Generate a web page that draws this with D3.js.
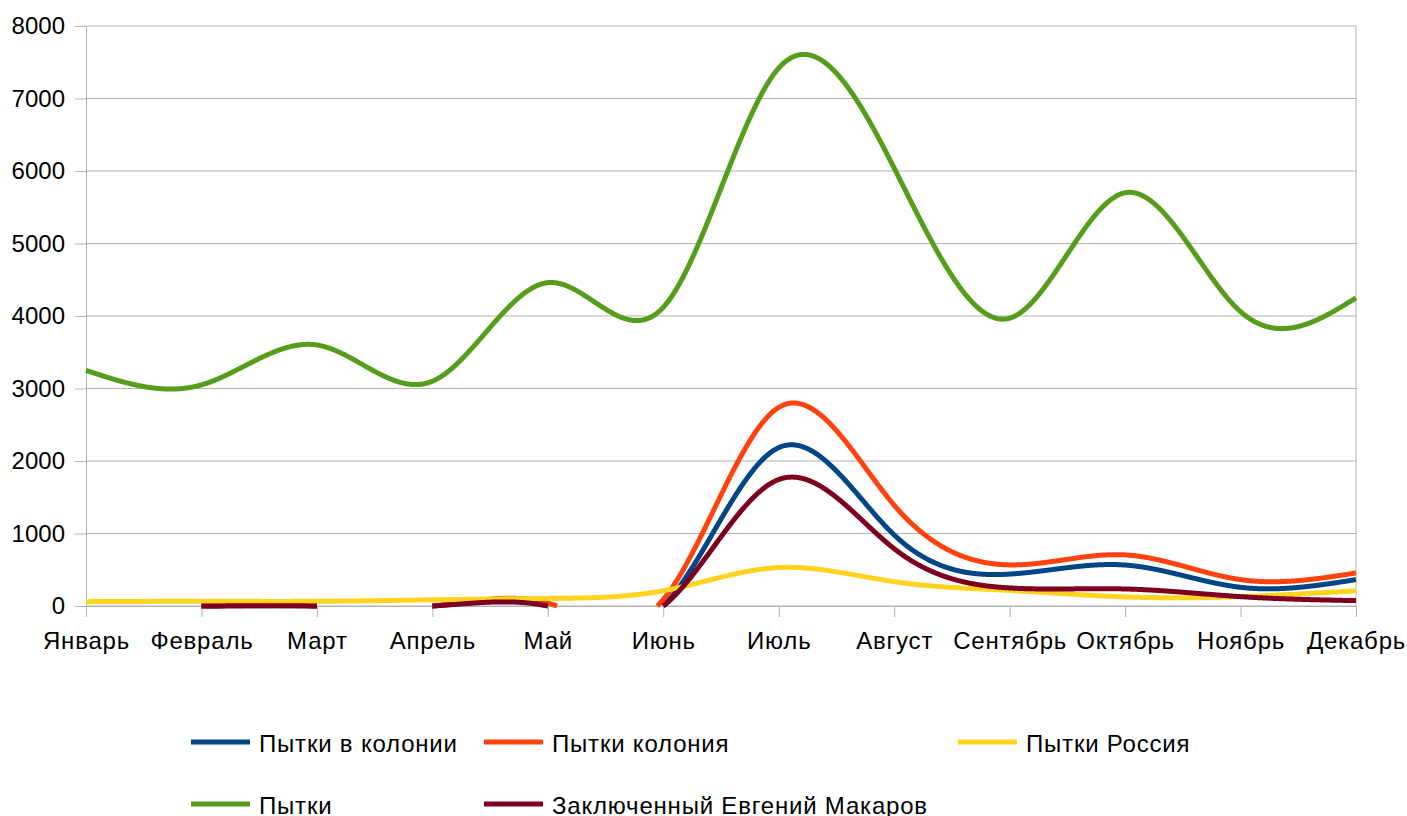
<!DOCTYPE html>
<html>
<head>
<meta charset="utf-8">
<script src="https://cdn.jsdelivr.net/npm/d3@7"></script>
<style>
  html, body { margin: 0; padding: 0; background: #ffffff; }
  svg { display: block; font-family: "Liberation Sans", Arial, sans-serif; }
</style>
</head>
<body>
<svg id="chart" width="1407" height="816"></svg>
<script>
// ---- data ----
const months = ["Январь","Февраль","Март","Апрель","Май","Июнь","Июль","Август","Сентябрь","Октябрь","Ноябрь","Декабрь"];
const yTicks = [0,1000,2000,3000,4000,5000,6000,7000,8000];
const seriesNames = ["Пытки в колонии","Пытки колония","Пытки Россия","Пытки","Заключенный Евгений Макаров"];
const seriesColors = ["#004586","#ff420e","#ffd320","#579d1c","#7e0021"];
const tortureInColony = [0,0,0,0,0,0,2185,980,440,565,258,364];
const tortureColony   = [0,0,0,0,40,90,2740,1390,567,705,364,456];
const tortureRussia   = [60,65,65,85,105,210,530,335,215,125,130,210];
const torture         = [3250,3050,3600,3100,4460,4120,7420,6040,3970,5700,4060,4250];
const makarov         = [0,0,0,0,0,0,1745,790,249,235,129,74];
const seriesValues = [tortureInColony, tortureColony, tortureRussia, torture, makarov];

(function () {
// ---- layout ----
const svg = d3.select("#chart");
const pL = 86, pR = 1356, pT = 26, pB = 606;
const x = d3.scalePoint().domain(months).range([pL, pR]);
const y = d3.scaleLinear().domain([0, 8000]).range([pB, pT]);
const grey = "#b3b3b3";
const fs = 24;
const ls = "0.8px";

svg.append("rect").attr("width", 1407).attr("height", 816).attr("fill", "#fff");

// grid
svg.append("g").selectAll("line").data(yTicks).join("line")
  .attr("x1", pL).attr("x2", pR)
  .attr("y1", d => y(d)).attr("y2", d => y(d))
  .attr("stroke", grey).attr("stroke-width", 1);
// wall border right
svg.append("line").attr("x1", pR).attr("x2", pR).attr("y1", pT).attr("y2", pB)
  .attr("stroke", grey);

// y axis
const gy = svg.append("g").attr("transform", `translate(${pL},0)`)
  .call(d3.axisLeft(y).tickValues(yTicks).tickSize(11).tickPadding(10).tickSizeOuter(0).tickFormat(d3.format("d")));
gy.select(".domain").attr("stroke", grey);
gy.selectAll(".tick line").attr("stroke", grey);
gy.selectAll("text").attr("font-size", fs).attr("fill", "#000")
  .attr("font-family", "Liberation Sans, Arial, sans-serif");

// x axis
const gx = svg.append("g").attr("transform", `translate(0,${pB})`)
  .call(d3.axisBottom(x).tickSize(11).tickSizeOuter(0));
gx.select(".domain").attr("stroke", grey);
gx.selectAll(".tick line").attr("stroke", grey);
gx.selectAll("text").attr("font-size", fs).attr("fill", "#000")
  .attr("font-family", "Liberation Sans, Arial, sans-serif").style("letter-spacing", ls)
  .attr("y", 43).attr("dy", 0);

// ---- series: natural spline, clipped geometrically at the bottom of the plot ----
const lineGen = d3.line().x((d, i) => x(months[i])).y(d => y(d)).curve(d3.curveNatural);
const linear = d3.line();
const limit = pB + 1e-6;

const gLines = svg.append("g");
seriesValues.forEach((vals, si) => {
  const tmp = gLines.append("path").attr("d", lineGen(vals)).attr("fill", "none");
  const node = tmp.node();
  const L = node.getTotalLength();
  const pts = [];
  for (let s = 0; s <= L; s += 0.5) { const p = node.getPointAtLength(s); pts.push([p.x, p.y]); }
  const pe = node.getPointAtLength(L); pts.push([pe.x, pe.y]);
  tmp.remove();
  const runs = [];
  let cur = null;
  for (let i = 0; i < pts.length; i++) {
    const p = pts[i];
    const inside = p[1] <= limit;
    if (inside) {
      if (!cur) {
        cur = [];
        if (i > 0) {
          const q = pts[i - 1];
          const t = (limit - q[1]) / (p[1] - q[1]);
          cur.push([q[0] + t * (p[0] - q[0]), limit]);
        }
        runs.push(cur);
      }
      cur.push(p);
    } else if (cur) {
      const q = pts[i - 1];
      const t = (limit - q[1]) / (p[1] - q[1]);
      cur.push([q[0] + t * (p[0] - q[0]), limit]);
      cur = null;
    }
  }
  gLines.append("g").selectAll("path").data(runs.filter(r => r.length > 1)).join("path")
    .attr("d", r => linear(r))
    .attr("fill", "none")
    .attr("stroke", seriesColors[si])
    .attr("stroke-width", 5)
    .attr("stroke-linejoin", "round");
});

// ---- legend ----
const legendPos = [[191, 742], [484, 742], [958, 742], [191, 804], [484, 804]];
const lg = svg.append("g");
seriesNames.forEach((name, i) => {
  const [lx, ly] = legendPos[i];
  lg.append("line").attr("x1", lx).attr("x2", lx + 59).attr("y1", ly).attr("y2", ly)
    .attr("stroke", seriesColors[i]).attr("stroke-width", 5);
  lg.append("text").attr("x", lx + 68).attr("y", ly + 10)
    .attr("font-size", fs).attr("fill", "#000").style("letter-spacing", ls).text(name);
});
})();
</script>
</body>
</html>
